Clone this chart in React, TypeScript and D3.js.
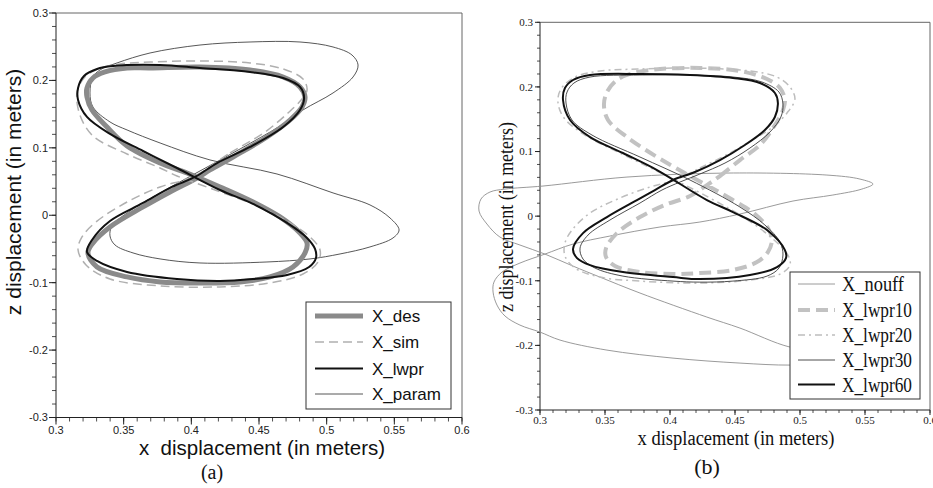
import React from "react";
import * as d3 from "d3";

type P = [number, number];

// ---------- shared axis data ----------
const xTickValues = [0.3, 0.35, 0.4, 0.45, 0.5, 0.55, 0.6];
const xTickLabels = ["0.3", "0.35", "0.4", "0.45", "0.5", "0.55", "0.6"];
const zTickValues = [-0.3, -0.2, -0.1, 0, 0.1, 0.2, 0.3];
const zTickLabels = ["-0.3", "-0.2", "-0.1", "0", "0.1", "0.2", "0.3"];
const xMinorStep = 0.01;
const zMinorStep = 0.02;

// ---------- panel (a) series ----------
const desA: P[] = [
  [0.4042, 0.0553], [0.4138, 0.0672], [0.4308, 0.0864], [0.4559, 0.1161], [0.4729, 0.1413],
  [0.4818, 0.1606], [0.484, 0.1754], [0.4803, 0.1903], [0.4678, 0.2051], [0.4434, 0.2155],
  [0.4064, 0.2199], [0.3695, 0.2184], [0.3525, 0.2184], [0.3362, 0.2125], [0.3273, 0.2036],
  [0.3229, 0.1888], [0.3229, 0.1754], [0.3266, 0.1562], [0.3377, 0.1309], [0.3525, 0.1028],
  [0.3769, 0.0775], [0.3968, 0.0627], [0.4212, 0.042], [0.4456, 0.0197], [0.4655, -0.0025],
  [0.4803, -0.0263], [0.4855, -0.0411], [0.484, -0.0559], [0.4751, -0.0767], [0.4581, -0.0915],
  [0.436, -0.0989], [0.4064, -0.1004], [0.3769, -0.0989], [0.3525, -0.0915], [0.3303, -0.0767],
  [0.3236, -0.0559], [0.3273, -0.0411], [0.3399, -0.0174], [0.3643, 0.0123], [0.3842, 0.0345],
];
const simA: P[] = [
  [0.4012, 0.0568], [0.4286, 0.0924], [0.4545, 0.1235], [0.4714, 0.1517], [0.4811, 0.171],
  [0.4855, 0.1858], [0.4825, 0.2021], [0.4678, 0.217], [0.4434, 0.2259], [0.4064, 0.2288],
  [0.3695, 0.2273], [0.3473, 0.2244], [0.331, 0.217], [0.3207, 0.2036], [0.3155, 0.1814],
  [0.3177, 0.1487], [0.3273, 0.1176], [0.3525, 0.0909], [0.3769, 0.0701], [0.3894, 0.0583],
  [0.4175, 0.0375], [0.4471, 0.0153], [0.4707, -0.0085], [0.4877, -0.0322], [0.4951, -0.0515],
  [0.4936, -0.0693], [0.4825, -0.0871], [0.4581, -0.1004], [0.4212, -0.1063], [0.3769, -0.1048],
  [0.3399, -0.0945], [0.3222, -0.0737], [0.3163, -0.0515], [0.3192, -0.0322], [0.3296, -0.0099],
  [0.3525, 0.0197], [0.3769, 0.042],
];
const lwprA: P[] = [
  [0.4027, 0.0568], [0.419, 0.0775], [0.4434, 0.1013], [0.4678, 0.1309], [0.4803, 0.1562],
  [0.4833, 0.1739], [0.4803, 0.1903], [0.4678, 0.2036], [0.4434, 0.2125], [0.4064, 0.2184],
  [0.3769, 0.2229], [0.3421, 0.2214], [0.3303, 0.217], [0.3207, 0.2066], [0.3163, 0.1888],
  [0.3163, 0.171], [0.3229, 0.1458], [0.3399, 0.1206], [0.3643, 0.0953], [0.3894, 0.0701],
  [0.4212, 0.0375], [0.4456, 0.0168], [0.4707, -0.0114], [0.4855, -0.0337], [0.4914, -0.05],
  [0.4921, -0.0633], [0.487, -0.0767], [0.4707, -0.0885], [0.4456, -0.0945], [0.4212, -0.0974],
  [0.3894, -0.0945], [0.3525, -0.0841], [0.3303, -0.0678], [0.3229, -0.0544], [0.3266, -0.0366],
  [0.3399, -0.0085], [0.3643, 0.0182], [0.3857, 0.042],
];
const paramA: P[] = [
  [0.3273, 0.2051], [0.3251, 0.1814], [0.3273, 0.1606], [0.3399, 0.1384], [0.3525, 0.1265],
  [0.3769, 0.1072], [0.4138, 0.082], [0.4633, 0.0612], [0.5047, 0.0331], [0.532, 0.0153],
  [0.5468, -0.004], [0.5535, -0.0218], [0.549, -0.0337], [0.532, -0.047], [0.5099, -0.0574],
  [0.4877, -0.0648], [0.4559, -0.0693], [0.4064, -0.0708], [0.3769, -0.0648], [0.3569, -0.0559],
  [0.3436, -0.0441], [0.3399, -0.0307], [0.3414, -0.0159], [0.3547, 0.0064], [0.3769, 0.0331],
  [0.4064, 0.0657], [0.436, 0.0983], [0.4655, 0.1324], [0.4825, 0.1562], [0.5047, 0.1814],
  [0.5195, 0.2051], [0.5232, 0.2229], [0.5187, 0.2377], [0.5047, 0.2496], [0.4803, 0.257],
  [0.4434, 0.257], [0.4064, 0.2525], [0.3695, 0.2407], [0.3451, 0.2259], [0.3325, 0.2155],
];

// ---------- panel (b) series ----------
const nouffB: P[] = [
  [0.3038, -0.0587], [0.2846, -0.0447], [0.2692, -0.0324], [0.2592, -0.0122], [0.2531, 0.0079],
  [0.2546, 0.0265], [0.2615, 0.0373], [0.2731, 0.0419], [0.3023, 0.0466], [0.3669, 0.0605],
  [0.4438, 0.0667], [0.5207, 0.0636], [0.5461, 0.0574], [0.5561, 0.0497], [0.5476, 0.0419],
  [0.5253, 0.0327], [0.4946, 0.0234], [0.4538, 0.0033], [0.423, -0.0091], [0.3923, -0.0168],
  [0.3538, -0.0308], [0.3254, -0.0432], [0.3038, -0.0587], [0.2846, -0.0726], [0.2708, -0.0865],
  [0.2646, -0.102], [0.2639, -0.1175], [0.2669, -0.1376], [0.2731, -0.1546], [0.2846, -0.1686],
  [0.3, -0.1794], [0.3154, -0.1918], [0.3515, -0.2073], [0.4023, -0.2197], [0.4538, -0.2274],
  [0.4923, -0.2305], [0.5192, -0.2274], [0.5307, -0.2181], [0.5231, -0.2088], [0.4923, -0.2026],
  [0.4538, -0.1732], [0.4284, -0.1562], [0.3769, -0.119], [0.3461, -0.0943], [0.3254, -0.0773],
];
const lwpr10B: P[] = [
  [0.4284, 0.0481], [0.4384, 0.0621], [0.4538, 0.0868], [0.4692, 0.1101], [0.4807, 0.141],
  [0.4869, 0.1642], [0.4884, 0.1797], [0.4846, 0.1983], [0.4746, 0.2122], [0.4538, 0.2246],
  [0.423, 0.2293], [0.3923, 0.2277], [0.3715, 0.2215], [0.3592, 0.2107], [0.3515, 0.1921],
  [0.3492, 0.172], [0.3523, 0.1488], [0.3669, 0.1224], [0.39, 0.0915], [0.41, 0.0683],
  [0.4484, 0.0249], [0.4653, 0.0033], [0.4753, -0.0184], [0.4784, -0.037], [0.4753, -0.0556],
  [0.4669, -0.0711], [0.4484, -0.0834], [0.423, -0.0881], [0.4023, -0.0896], [0.3769, -0.0865],
  [0.3577, -0.0773], [0.3508, -0.0633], [0.3508, -0.0494], [0.3592, -0.0262], [0.3769, -0.0014],
  [0.3961, 0.0173], [0.4154, 0.0311],
];
const lwpr20B: P[] = [
  [0.4038, 0.0559], [0.423, 0.0745], [0.4461, 0.0977], [0.463, 0.1178], [0.4792, 0.1379],
  [0.49, 0.1596], [0.4961, 0.1813], [0.4923, 0.1998], [0.4823, 0.2153], [0.4615, 0.2246],
  [0.4154, 0.2293], [0.3769, 0.2277], [0.3461, 0.2246], [0.3269, 0.2153], [0.3161, 0.1967],
  [0.3138, 0.1766], [0.3185, 0.1519], [0.3346, 0.1255], [0.3615, 0.0977], [0.3884, 0.0714],
  [0.4307, 0.0281], [0.4576, -0.0029], [0.4784, -0.0339], [0.4907, -0.0602], [0.4923, -0.0757],
  [0.4846, -0.0897], [0.4615, -0.0989], [0.423, -0.1036], [0.3769, -0.1005], [0.3461, -0.0943],
  [0.3269, -0.0803], [0.3192, -0.0617], [0.3192, -0.0416], [0.3246, -0.0215], [0.3385, 0.0048],
  [0.3615, 0.0281], [0.3846, 0.0451],
];
const lwpr30B: P[] = [
  [0.4077, 0.0528], [0.423, 0.0652], [0.4423, 0.0822], [0.4615, 0.1054], [0.4769, 0.1302],
  [0.4853, 0.1534], [0.4869, 0.1735], [0.4838, 0.1921], [0.4707, 0.2076], [0.4484, 0.2153],
  [0.4154, 0.2184], [0.3769, 0.2184], [0.3385, 0.2153], [0.3261, 0.206], [0.3208, 0.1921],
  [0.32, 0.1751], [0.3246, 0.1488], [0.34, 0.1255], [0.3769, 0.0915], [0.4154, 0.0559],
  [0.4538, 0.0141], [0.473, -0.0137], [0.4846, -0.04], [0.4869, -0.0601], [0.4838, -0.0803],
  [0.4746, -0.0928], [0.4484, -0.1005], [0.423, -0.1021], [0.4023, -0.1005], [0.3638, -0.0928],
  [0.3423, -0.0803], [0.3331, -0.0664], [0.3308, -0.0494], [0.3369, -0.0293], [0.3538, -0.006],
  [0.3769, 0.0203], [0.3938, 0.0404],
];
const lwpr60B: P[] = [
  [0.4023, 0.0559], [0.4192, 0.0683], [0.4384, 0.0868], [0.4576, 0.1101], [0.473, 0.1333],
  [0.4807, 0.1534], [0.483, 0.1751], [0.4807, 0.1906], [0.4692, 0.206], [0.4484, 0.2138],
  [0.4154, 0.2184], [0.3769, 0.22], [0.3385, 0.2184], [0.3254, 0.2107], [0.3192, 0.1983],
  [0.3177, 0.1797], [0.3231, 0.1488], [0.3385, 0.1224], [0.3638, 0.0977], [0.39, 0.0714],
  [0.4284, 0.0249], [0.4484, 0.0063], [0.4746, -0.0215], [0.4884, -0.0525], [0.4892, -0.0649],
  [0.4823, -0.0788], [0.4615, -0.0912], [0.423, -0.0974], [0.4023, -0.0943], [0.3638, -0.0865],
  [0.3385, -0.0757], [0.3285, -0.0649], [0.3254, -0.0509], [0.3331, -0.0262], [0.3515, -0.0014],
  [0.3746, 0.0249], [0.3884, 0.0404],
];

const legendA = ["X_des", "X_sim", "X_lwpr", "X_param"];
const legendB = ["X_nouff", "X_lwpr10", "X_lwpr20", "X_lwpr30", "X_lwpr60"];

type Style = { stroke: string; width: number; dash?: string };
const stylesA: Style[] = [
  { stroke: "#8a8a8a", width: 5 },
  { stroke: "#b0b0b0", width: 1.5, dash: "9,5" },
  { stroke: "#111", width: 2 },
  { stroke: "#444", width: 0.9 },
];
const stylesB: Style[] = [
  { stroke: "#8e8e8e", width: 0.9 },
  { stroke: "#c2c2c2", width: 4, dash: "12,6" },
  { stroke: "#bdbdbd", width: 1.5, dash: "7,4,2,4" },
  { stroke: "#3a3a3a", width: 0.9 },
  { stroke: "#111", width: 2 },
];

const SANS = "'Liberation Sans', Arial, Helvetica, sans-serif";
const SERIF = "'Liberation Serif', 'Times New Roman', serif";

function Axes(props: {
  x: d3.ScaleLinear<number, number>;
  z: d3.ScaleLinear<number, number>;
  font: string;
  fontSize: number;
  major: number;
  minor: number;
  xLabelY: number;
  zLabelGap: number;
  frame: string;
}) {
  const { x, z, font, fontSize, major, minor, xLabelY, zLabelGap, frame } = props;
  const [x0, x1] = x.range();
  const [zb, zt] = z.range();
  const xMinor = d3.range(0.3, 0.6 + 1e-9, xMinorStep);
  const zMinor = d3.range(-0.3, 0.3 + 1e-9, zMinorStep);
  return (
    <g>
      <line x1={x0} x2={x1} y1={zt} y2={zt} stroke={frame} strokeWidth={1} />
      <line x1={x1} x2={x1} y1={zt} y2={zb} stroke={frame} strokeWidth={1} />
      <line x1={x0} x2={x1} y1={zb} y2={zb} stroke="#222" strokeWidth={1} />
      <line x1={x0} x2={x0} y1={zt} y2={zb} stroke="#222" strokeWidth={1} />
      {xMinor.map((v, i) => (
        <line key={"xm" + i} x1={x(v)} x2={x(v)} y1={zb} y2={zb + minor} stroke="#222" strokeWidth={0.8} />
      ))}
      {zMinor.map((v, i) => (
        <line key={"zm" + i} x1={x0 - minor} x2={x0} y1={z(v)} y2={z(v)} stroke="#222" strokeWidth={0.8} />
      ))}
      {xTickValues.map((v, i) => (
        <g key={"xt" + i}>
          <line x1={x(v)} x2={x(v)} y1={zb} y2={zb + major} stroke="#222" strokeWidth={1} />
          <text x={x(v)} y={xLabelY} textAnchor="middle" fontFamily={font} fontSize={fontSize} fill="#222">
            {xTickLabels[i]}
          </text>
        </g>
      ))}
      {zTickValues.map((v, i) => (
        <g key={"zt" + i}>
          <line x1={x0 - major} x2={x0} y1={z(v)} y2={z(v)} stroke="#222" strokeWidth={1} />
          <text x={x0 - major - zLabelGap} y={z(v)} dy="0.35em" textAnchor="end" fontFamily={font} fontSize={fontSize} fill="#222">
            {zTickLabels[i]}
          </text>
        </g>
      ))}
    </g>
  );
}

export default function App() {
  const xA = d3.scaleLinear().domain([0.3, 0.6]).range([56, 462]);
  const zA = d3.scaleLinear().domain([-0.3, 0.3]).range([417.5, 13]);
  const xB = d3.scaleLinear().domain([0.3, 0.6]).range([540, 930]);
  const zB = d3.scaleLinear().domain([-0.3, 0.3]).range([410, 22.3]);

  const lineA = d3
    .line<P>()
    .x((d) => xA(d[0]))
    .y((d) => zA(d[1]))
    .curve(d3.curveCatmullRomClosed.alpha(0.5));
  const lineB = d3
    .line<P>()
    .x((d) => xB(d[0]))
    .y((d) => zB(d[1]))
    .curve(d3.curveCatmullRomClosed.alpha(0.5));

  const seriesA = [paramA, desA, simA, lwprA];
  const seriesAStyle = [stylesA[3], stylesA[0], stylesA[1], stylesA[2]];
  const seriesB = [nouffB, lwpr10B, lwpr20B, lwpr30B, lwpr60B];

  const legAy = [316, 342, 368.5, 394];
  const legBy = [284, 310, 335, 360, 384.5];
  const legBw = [62, 70, 70, 70, 70];

  return (
    <svg width={933} height={488} style={{ position: "absolute", left: 0, top: 0, background: "#fff" }}>
      <rect x={0} y={0} width={933} height={488} fill="#fff" />

      {/* ---------- panel (a) ---------- */}
      <Axes x={xA} z={zA} font={SANS} fontSize={11} major={7} minor={4} xLabelY={434} zLabelGap={1} frame="#666" />
      {seriesA.map((s, i) => (
        <path
          key={"a" + i}
          d={lineA(s) || ""}
          fill="none"
          stroke={seriesAStyle[i].stroke}
          strokeWidth={seriesAStyle[i].width}
          strokeDasharray={seriesAStyle[i].dash}
          strokeLinejoin="round"
        />
      ))}
      <rect x={306} y={302} width={145} height={107} fill="#fff" stroke="#333" strokeWidth={1} />
      {legendA.map((name, i) => (
        <g key={"la" + i}>
          <line x1={315} x2={363} y1={legAy[i]} y2={legAy[i]} stroke={stylesA[i].stroke} strokeWidth={stylesA[i].width} strokeDasharray={stylesA[i].dash} />
          <text x={372} y={legAy[i] + 6} fontFamily={SANS} fontSize={17} fill="#111">
            {name}
          </text>
        </g>
      ))}
      <text x={262} y={455} textAnchor="middle" fontFamily={SANS} fontSize={20.5} fill="#111" style={{ whiteSpace: "pre" }}>
        {"x  displacement (in meters)"}
      </text>
      <text transform="translate(21,192) rotate(-90)" textAnchor="middle" fontFamily={SANS} fontSize={21} fill="#111">
        z displacement (in meters)
      </text>
      <text x={212} y={479} textAnchor="middle" fontFamily={SERIF} fontSize={20} fill="#111">
        (a)
      </text>

      {/* ---------- panel (b) ---------- */}
      <Axes x={xB} z={zB} font={SERIF} fontSize={11} major={5} minor={3} xLabelY={424} zLabelGap={2} frame="#666" />
      {seriesB.map((s, i) => (
        <path
          key={"b" + i}
          d={lineB(s) || ""}
          fill="none"
          stroke={stylesB[i].stroke}
          strokeWidth={stylesB[i].width}
          strokeDasharray={stylesB[i].dash}
          strokeLinejoin="round"
        />
      ))}
      <rect x={790} y={272} width={130} height={127} fill="#fff" stroke="#333" strokeWidth={1} />
      {legendB.map((name, i) => (
        <g key={"lb" + i}>
          <line x1={798} x2={835} y1={legBy[i]} y2={legBy[i]} stroke={stylesB[i].stroke} strokeWidth={stylesB[i].width} strokeDasharray={stylesB[i].dash} />
          <text x={842} y={legBy[i] + 7} fontFamily={SERIF} fontSize={21} fill="#111" textLength={legBw[i]} lengthAdjust="spacingAndGlyphs">
            {name}
          </text>
        </g>
      ))}
      <text x={736} y={445} textAnchor="middle" fontFamily={SERIF} fontSize={20} fill="#111" textLength={197} lengthAdjust="spacingAndGlyphs">
        x displacement (in meters)
      </text>
      <text transform="translate(513,217) rotate(-90)" textAnchor="middle" fontFamily={SERIF} fontSize={21} fill="#111" textLength={190} lengthAdjust="spacingAndGlyphs">
        z displacement (in meters)
      </text>
      <text x={707} y={474} textAnchor="middle" fontFamily={SERIF} fontSize={22} fill="#111">
        (b)
      </text>
    </svg>
  );
}
